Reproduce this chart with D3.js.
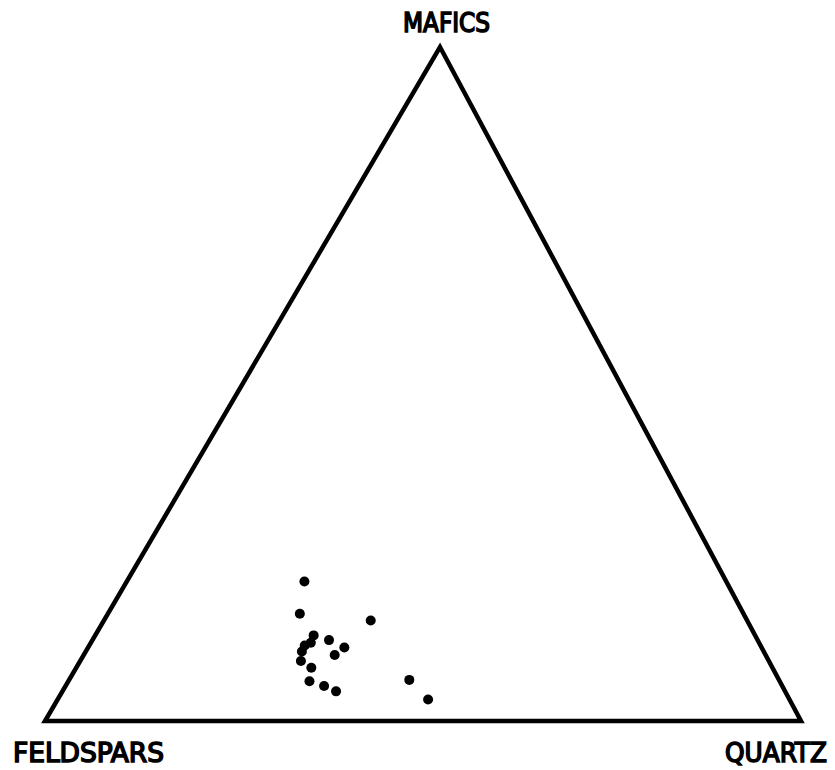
<!DOCTYPE html>
<html>
<head>
<meta charset="utf-8">
<script src="https://cdn.jsdelivr.net/npm/d3@7"></script>
<style>
  body { margin: 0; background: #fff; }
  text { font-family: "DejaVu Sans Condensed", "DejaVu Sans", sans-serif; fill: #000; stroke: #000; stroke-width: 1.5px; }
</style>
</head>
<body>
<svg id="svg" width="835" height="770"></svg>
<script>
// ternary: feldspars (left), quartz (right), mafics (top), in %
var mafics = [20.7, 15.9, 14.9, 12.7, 12.0, 11.6, 11.2, 10.9, 10.3, 9.8, 8.9, 7.9, 5.9, 5.2, 4.4, 6.1, 3.2];
var quartz = [23.5, 25.4, 35.3, 28.9, 31.3, 29.1, 28.5, 33.9, 28.6, 33.2, 29.2, 31.1, 31.9, 34.2, 36.2, 45.0, 49.0];
var corners = ["FELDSPARS", "QUARTZ", "MAFICS"];

var svg = d3.select("#svg");

// corner positions
var cLeft = [45, 721], cRight = [801, 721], cTop = [440, 47];

var yScale = d3.scaleLinear().domain([0, 100]).range([cLeft[1], cTop[1]]);       // mafics -> y
var qScale = d3.scaleLinear().domain([0, 100]).range([0, cRight[0] - cLeft[0]]); // quartz -> x shift
var mShift = d3.scaleLinear().domain([0, 100]).range([0, cTop[0] - cLeft[0]]);   // mafics -> x shift

var px = function(q, m) { return cLeft[0] + qScale(q) + mShift(m); };

// triangle outline
var tri = [[0, 0], [100, 0], [0, 100], [0, 0]];
svg.append("path")
  .attr("d", d3.line()
    .x(function(d) { return px(d[0], d[1]); })
    .y(function(d) { return yScale(d[1]); })(tri) + "Z")
  .attr("fill", "none")
  .attr("stroke", "#000")
  .attr("stroke-width", 4.5)
  .attr("stroke-linejoin", "miter");

// samples
svg.selectAll("circle").data(mafics).enter().append("circle")
  .attr("cx", function(d, i) { return px(quartz[i], d); })
  .attr("cy", function(d) { return yScale(d); })
  .attr("r", 5)
  .attr("fill", "#000");

// corner labels
svg.append("text").attr("x", 13).attr("y", 762).attr("textLength", 151)
  .attr("lengthAdjust", "spacingAndGlyphs").attr("font-size", 27).text(corners[0]);
svg.append("text").attr("x", 725).attr("y", 762).attr("textLength", 102)
  .attr("lengthAdjust", "spacingAndGlyphs").attr("font-size", 27).text(corners[1]);
svg.append("text").attr("x", 403).attr("y", 32).attr("textLength", 87)
  .attr("lengthAdjust", "spacingAndGlyphs").attr("font-size", 26).text(corners[2]);
</script>
</body>
</html>
